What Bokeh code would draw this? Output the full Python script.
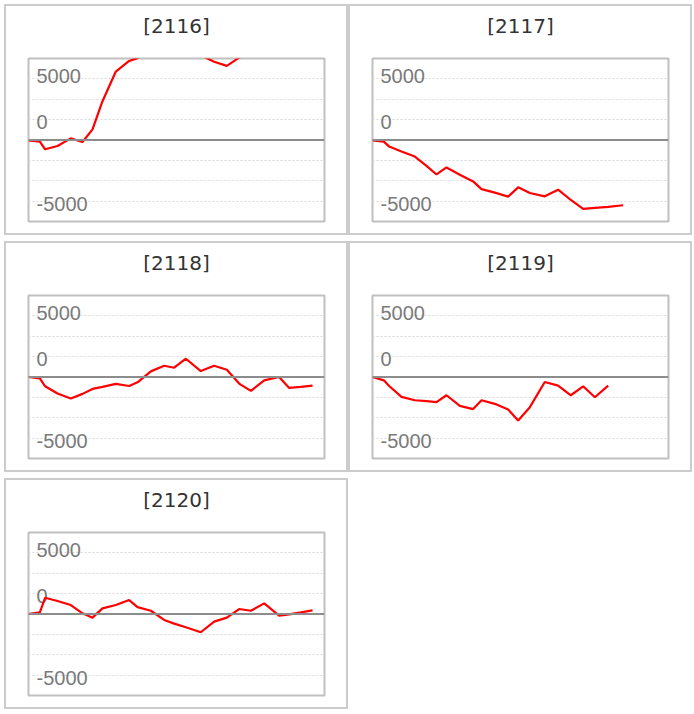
from bokeh.plotting import figure
from bokeh.models import Range1d, FixedTicker, Span, ColumnDataSource, Grid
from bokeh.layouts import row, column
from bokeh.embed import file_html
from bokeh.resources import INLINE
from bokeh.core.properties import value

# ---------------- data ----------------
titles = ["[2116]", "[2117]", "[2118]", "[2119]", "[2120]"]

x_pos = [0.0, 0.92, 1.35, 2.35, 3.43, 4.38, 5.19, 6.0, 7.08, 8.16, 8.84, 9.92,
         11.0, 11.81, 12.76, 13.97, 15.05, 16.08, 17.08, 18.03, 19.11, 20.32,
         21.14, 22.08, 23.03]

s2116 = [-40, -200, -1140, -730, 200, -240, 1300, 4760, 8400, 9700, 10050, 11000,
         11800, 11500, 11000, 10400, 9600, 9100, 10100, 10900, 11500, 12000,
         12300, 12100, 12500]
s2117 = [-40, -200, -810, -1420, -2030, -3170, -4230, -3370, -4270, -5080, -6020,
         -6460, -6950, -5810, -6500, -6910, -6100, -7360, -8460, -8330, -8210, -8010]
s2118 = [0, -160, -1140, -2030, -2640, -2070, -1460, -1220, -850, -1100, -650, 690,
         1380, 1140, 2240, 730, 1380, 890, -810, -1710, -410, 0, -1340, -1220, -1060]
s2119 = [0, -410, -1100, -2440, -2850, -2970, -3090, -2240, -3540, -3940, -2850,
         -3290, -3980, -5330, -3700, -610, -1060, -2240, -1140, -2480, -1060]
s2120 = [0, 200, 1990, 1590, 1100, 80, -450, 690, 1100, 1710, 850, 400, -730,
         -1180, -1630, -2240, -930, -450, 610, 400, 1300, -200, -40, 200, 450]

series = [s2116, s2117, s2118, s2119, s2120]

tick_labels = ["5000", "0", "-5000"]
tick_label_pos = [7800, 2200, -7900]
grid_levels = [-7500, -5000, -2500, 2500, 5000, 7500]
zero_level = 0

X_MIN, X_MAX = 0, 24
Y_MIN, Y_MAX = -10000, 10000

LABEL_FONT = "Liberation Sans"
TITLE_FONT = "DejaVu Sans"


def make_panel(title, ys):
    n = len(ys)
    src = ColumnDataSource(dict(x=x_pos[:n], y=ys))
    p = figure(width=344, height=231,
               x_range=Range1d(X_MIN, X_MAX), y_range=Range1d(Y_MIN, Y_MAX),
               output_backend="svg", toolbar_location=None,
               x_axis_type=None, y_axis_type=None,
               min_border_left=22, min_border_right=26,
               min_border_top=52, min_border_bottom=16,
               title=title,
               styles={"border": "2px solid #cccccc"})
    p.title.align = "center"
    p.title.text_font = TITLE_FONT
    p.title.text_font_size = "20px"
    p.title.text_font_style = "normal"
    p.title.text_color = "#333333"
    p.title.standoff = 10
    p.title.padding = dict(left=0, right=0, top=0, bottom=16)
    p.outline_line_color = "#c0c0c0"
    p.outline_line_width = 2
    p.background_fill_color = "white"
    p.border_fill_color = "white"

    g = Grid(dimension=1, ticker=FixedTicker(ticks=grid_levels),
             grid_line_color="#d9d9d9", grid_line_width=1, grid_line_dash="2 2")
    p.add_layout(g)
    p.add_layout(Span(location=zero_level, dimension="width",
                      line_color="#8c8c8c", line_width=2))

    p.text(x=[X_MIN] * len(tick_labels), y=tick_label_pos, text=tick_labels,
           x_offset=8, text_align="left", text_baseline="middle",
           text_font=value(LABEL_FONT), text_font_size=value("20px"),
           text_color="#7a7a7a")

    p.line("x", "y", source=src, line_color="#ff0000", line_width=2.2)
    return p


panels = [make_panel(t, s) for t, s in zip(titles, series)]

layout = column(
    row(panels[0], panels[1], spacing=0),
    row(panels[2], panels[3], spacing=0),
    row(panels[4], spacing=0),
    spacing=6,
    styles={"margin-left": "4px", "margin-top": "4px"},
)

open("out.html", "w").write(file_html(layout, INLINE))
